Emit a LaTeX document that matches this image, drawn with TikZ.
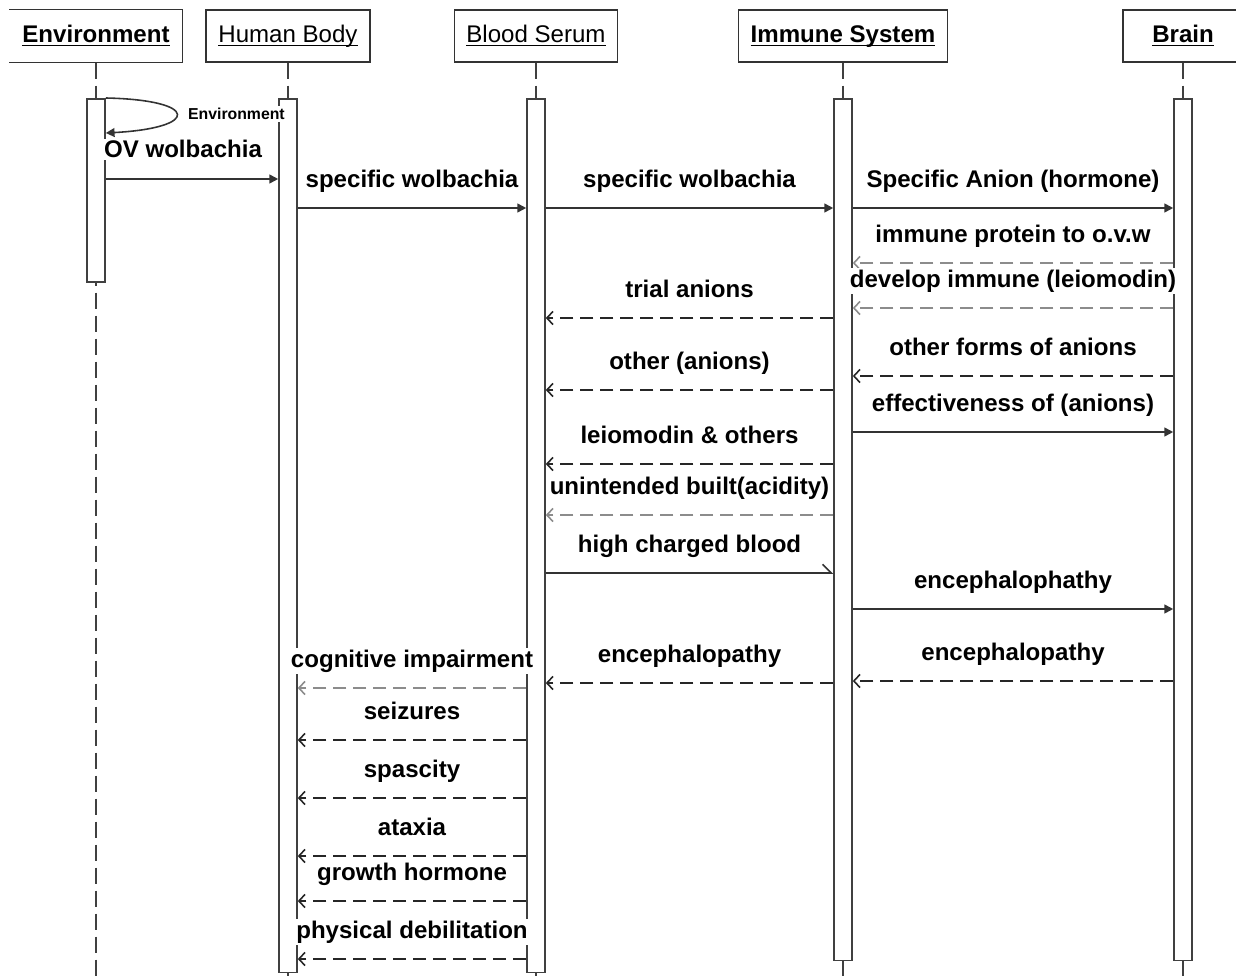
\documentclass[tikz,border=0pt]{standalone}
\usepackage{fontspec}
\setmainfont{Liberation Sans}
\usetikzlibrary{arrows.meta,positioning,calc}

\newcommand{\msgfont}{\fontsize{13.7}{16}\selectfont\bfseries}
\newcommand{\headfont}{\fontsize{13.7}{16}\selectfont}
\newcommand{\selffont}{\fontsize{9}{11}\selectfont\bfseries}
\newcommand{\headtext}[1]{\underline{\vphantom{E}\smash{#1}}}

\tikzset{
  head/.style={draw=black!80, line width=0.8pt, minimum height=1.04cm, inner sep=0pt, font=\headfont},
  bar/.style={draw=black!75, line width=0.9pt, fill=white, minimum width=0.36cm, inner sep=0pt, anchor=north},
  lifeline/.style={draw=black!75, line width=0.8pt, dash pattern=on 0.32cm off 0.14cm},
  call/.style={draw=black!80, line width=0.9pt, -{Triangle[length=5pt,width=5pt]}},
  reply/.style={draw=black!85, line width=0.9pt, dash pattern=on 0.26cm off 0.14cm, -{Straight Barb[length=3.5pt,width=7.5pt]}},
  fadedreply/.style={reply, draw=black!45},
  lbl/.style={midway, anchor=base, yshift=0.42cm, fill=white, inner sep=1pt, font=\msgfont},
}

\begin{document}
\begin{tikzpicture}[x=0.02cm, y=-0.02cm]
  \useasboundingbox (0,0) rectangle (1236,979);

  % lifeline heads
  \node[head, draw=none, minimum width=3.44cm] (env) at (96,36) {\headtext{\textbf{Environment}}};
  \draw[black!80, line width=0.8pt] (env.north west) -- (env.north east) -- (env.south east) -- (env.south west);
  \node[head, minimum width=3.28cm] (hb) at (288,36) {\headtext{Human Body}};
  \node[head, minimum width=3.26cm] (bs) at (536,36) {\headtext{Blood Serum}};
  \node[head, minimum width=4.18cm] (im) at (843,36) {\headtext{\textbf{Immune System}}};
  \node[head, minimum width=2.4cm] (br) at (1183,36) {\headtext{\textbf{Brain}}};

  % lifelines
  \foreach \n in {env,hb,bs,im,br}
    \draw[lifeline] (\n.south) -- (\n.south |- 0,979);

  % activation bars
  \node[bar, minimum height=3.66cm] (envbar) at (env.south |- 0,98) {};
  \node[bar, minimum height=17.48cm] (hbbar) at (hb.south |- 0,98) {};
  \node[bar, minimum height=17.48cm] (bsbar) at (bs.south |- 0,98) {};
  \node[bar, minimum height=17.24cm] (imbar) at (im.south |- 0,98) {};
  \node[bar, minimum height=17.24cm] (brbar) at (br.south |- 0,98) {};

  % self message
  \draw[call] (envbar.north east) .. controls (200,100) and (200,128) .. (envbar.east |- 0,133);
  \node[font=\selffont, fill=white, inner sep=1pt, anchor=west] (selflbl) at (186,114) {Environment};

  % calls
  \draw[call] (envbar.east |- 0,179) -- node[lbl, xshift=-0.18cm] {OV wolbachia} (hbbar.west |- 0,179);
  \foreach \yy/\src/\dst/\txt in {208/hb/bs/specific wolbachia,
      208/bs/im/specific wolbachia, 208/im/br/Specific Anion (hormone),
      432/im/br/effectiveness of (anions), 609/im/br/encephalophathy}
    \draw[call] (\src bar.east |- 0,\yy) -- node[lbl] {\txt} (\dst bar.west |- 0,\yy);
  \draw[call, -{Straight Barb[left,length=5pt,width=10pt]}] (bsbar.east |- 0,573)
    -- node[lbl] {high charged blood} (imbar.west |- 0,573);

  % replies
  \foreach \yy/\src/\dst/\txt in {318/im/bs/trial anions, 390/im/bs/other (anions),
      376/br/im/other forms of anions, 464/im/bs/leiomodin \& others,
      681/br/im/encephalopathy, 683/im/bs/encephalopathy, 740/bs/hb/seizures,
      798/bs/hb/spascity, 856/bs/hb/ataxia, 901/bs/hb/growth hormone,
      959/bs/hb/physical debilitation}
    \draw[reply] (\src bar.west |- 0,\yy) -- node[lbl] {\txt} (\dst bar.east |- 0,\yy);
  \foreach \yy/\src/\dst/\txt in {263/br/im/immune protein to o.v.w,
      308/br/im/develop immune (leiomodin), 515/im/bs/unintended built(acidity),
      688/bs/hb/cognitive impairment}
    \draw[fadedreply] (\src bar.west |- 0,\yy) -- node[lbl] {\txt} (\dst bar.east |- 0,\yy);
\end{tikzpicture}
\end{document}
